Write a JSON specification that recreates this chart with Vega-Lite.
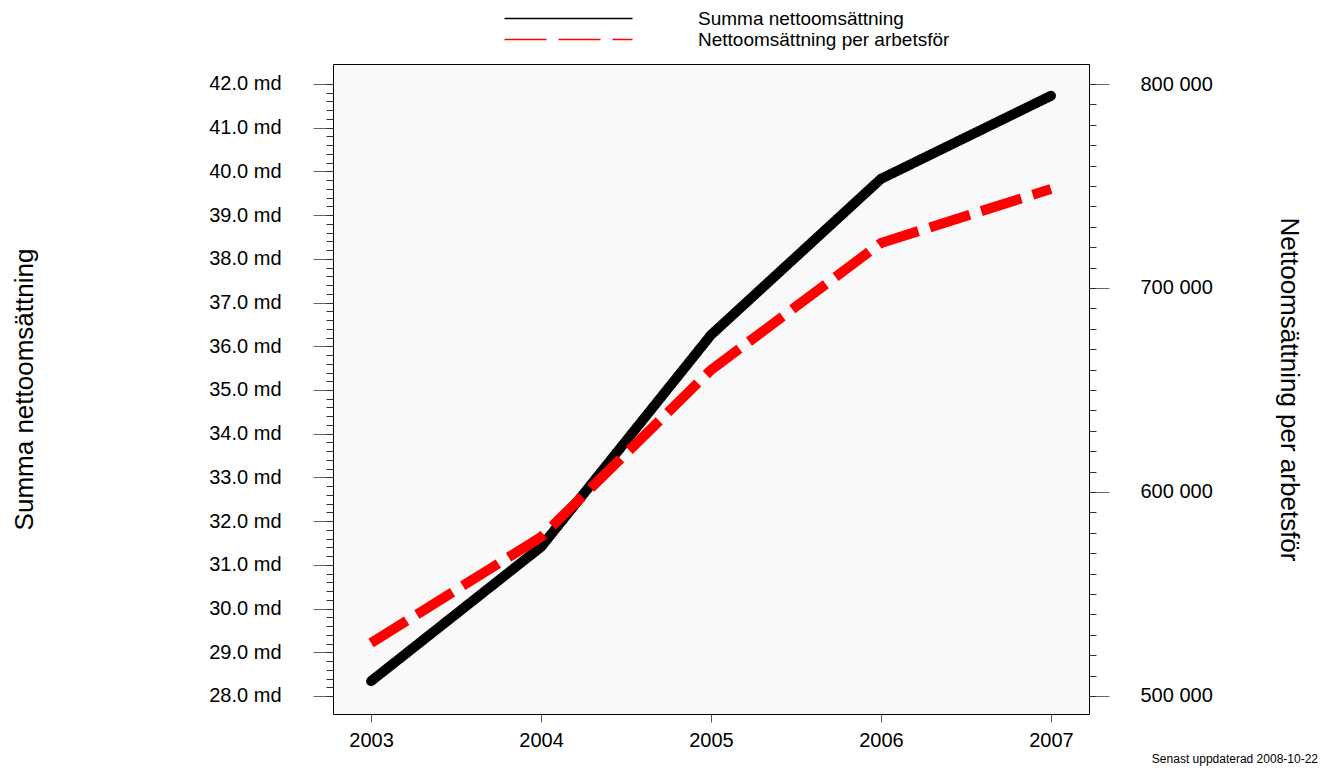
{
  "$schema": "https://vega.github.io/schema/vega-lite/v6.json",
  "width": 756,
  "height": 650,
  "autosize": {"type": "none"},
  "padding": {"left": 333, "top": 64, "right": 239, "bottom": 59},
  "background": "#ffffff",
  "title": {
    "text": "Senast uppdaterad 2008-10-22",
    "orient": "bottom",
    "anchor": "end",
    "frame": "group",
    "fontSize": 12,
    "fontWeight": "normal",
    "font": "Liberation Sans",
    "color": "#000000",
    "baseline": "top",
    "offset": 4,
    "dx": 229
  },
  "data": {
    "values": [
      {"year": 2003, "series": "Summa nettoomsättning", "value": 28.34},
      {"year": 2004, "series": "Summa nettoomsättning", "value": 31.41},
      {"year": 2005, "series": "Summa nettoomsättning", "value": 36.26},
      {"year": 2006, "series": "Summa nettoomsättning", "value": 39.83},
      {"year": 2007, "series": "Summa nettoomsättning", "value": 41.73},
      {"year": 2003, "series": "Nettoomsättning per arbetsför", "value": 525980},
      {"year": 2004, "series": "Nettoomsättning per arbetsför", "value": 577940},
      {"year": 2005, "series": "Nettoomsättning per arbetsför", "value": 659800},
      {"year": 2006, "series": "Nettoomsättning per arbetsför", "value": 722060},
      {"year": 2007, "series": "Nettoomsättning per arbetsför", "value": 748530}
    ]
  },
  "encoding": {
    "x": {
      "field": "year",
      "type": "quantitative",
      "scale": {"domain": [2002.776, 2007.224], "nice": false, "zero": false},
      "axis": {
        "values": [2003, 2004, 2005, 2006, 2007],
        "format": "d",
        "title": null,
        "tickSize": 8,
        "labelPadding": 8,
        "labelFontSize": 20,
        "tickColor": "#555555",
        "labelFlush": false
      }
    }
  },
  "layer": [
    {
      "transform": [{"filter": "datum.series === 'Summa nettoomsättning'"}],
      "mark": {"type": "line", "strokeWidth": 10, "strokeCap": "round", "strokeJoin": "round"},
      "encoding": {
        "y": {
          "field": "value",
          "type": "quantitative",
          "scale": {"domain": [27.5882, 42.4575], "nice": false, "zero": false},
          "axis": {
            "orient": "left",
            "values": [28, 29, 30, 31, 32, 33, 34, 35, 36, 37, 38, 39, 40, 41, 42],
            "labelExpr": "format(datum.value, '.1f') + ' md'",
            "tickSize": 20,
            "labelPadding": 32,
            "labelFontSize": 20,
            "tickColor": "#666666",
            "title": "Summa nettoomsättning",
            "titleFontSize": 26,
            "titleFontWeight": "normal",
            "titleAngle": -90,
            "titleX": -309,
            "titleY": 325,
            "titleAlign": "center",
            "titleBaseline": "middle"
          }
        },
        "color": {
          "field": "series",
          "type": "nominal",
          "scale": {"domain": ["Summa nettoomsättning", "Nettoomsättning per arbetsför"], "range": ["#000000", "#ff0000"]},
          "legend": {"title": null}
        },
        "strokeDash": {
          "field": "series",
          "type": "nominal",
          "scale": {"domain": ["Summa nettoomsättning", "Nettoomsättning per arbetsför"], "range": [[1, 0], [42, 12]]},
          "legend": {"title": null}
        }
      }
    },
    {
      "transform": [{"filter": "datum.series === 'Summa nettoomsättning'"}],
      "mark": {"type": "line", "strokeOpacity": 0},
      "encoding": {
        "y": {
          "field": "value",
          "type": "quantitative",
          "scale": {"domain": [27.5882, 42.4575], "nice": false, "zero": false},
          "axis": {
            "orient": "left",
            "values": [28, 28.2, 28.4, 28.6, 28.8, 29, 29.2, 29.4, 29.6, 29.8, 30, 30.2, 30.4, 30.6, 30.8, 31, 31.2, 31.4, 31.6, 31.8, 32, 32.2, 32.4, 32.6, 32.8, 33, 33.2, 33.4, 33.6, 33.8, 34, 34.2, 34.4, 34.6, 34.8, 35, 35.2, 35.4, 35.6, 35.8, 36, 36.2, 36.4, 36.6, 36.8, 37, 37.2, 37.4, 37.6, 37.8, 38, 38.2, 38.4, 38.6, 38.8, 39, 39.2, 39.4, 39.6, 39.8, 40, 40.2, 40.4, 40.6, 40.8, 41, 41.2, 41.4, 41.6, 41.8, 42],
            "labels": false,
            "tickSize": 7,
            "tickColor": "#333333",
            "title": null
          }
        }
      }
    },
    {
      "transform": [{"filter": "datum.series === 'Nettoomsättning per arbetsför'"}],
      "mark": {"type": "line", "strokeWidth": 10, "strokeCap": "butt", "strokeJoin": "miter"},
      "encoding": {
        "y": {
          "field": "value",
          "type": "quantitative",
          "scale": {"domain": [491176, 809804], "nice": false, "zero": false},
          "axis": {
            "orient": "right",
            "values": [500000, 600000, 700000, 800000],
            "labelExpr": "replace(format(datum.value, ',d'), ',', ' ')",
            "tickSize": 20,
            "labelPadding": 31,
            "labelFontSize": 20,
            "tickColor": "#666666",
            "title": "Nettoomsättning per arbetsför",
            "titleFontSize": 26,
            "titleFontWeight": "normal",
            "titleAngle": 90,
            "titleX": 199,
            "titleY": 325,
            "titleAlign": "center",
            "titleBaseline": "middle"
          }
        },
        "color": {
          "field": "series",
          "type": "nominal",
          "scale": {"domain": ["Summa nettoomsättning", "Nettoomsättning per arbetsför"], "range": ["#000000", "#ff0000"]},
          "legend": {"title": null}
        },
        "strokeDash": {
          "field": "series",
          "type": "nominal",
          "scale": {"domain": ["Summa nettoomsättning", "Nettoomsättning per arbetsför"], "range": [[1, 0], [42, 12]]},
          "legend": {"title": null}
        }
      }
    },
    {
      "transform": [{"filter": "datum.series === 'Nettoomsättning per arbetsför'"}],
      "mark": {"type": "line", "strokeOpacity": 0},
      "encoding": {
        "y": {
          "field": "value",
          "type": "quantitative",
          "scale": {"domain": [491176, 809804], "nice": false, "zero": false},
          "axis": {
            "orient": "right",
            "values": [500000, 510000, 520000, 530000, 540000, 550000, 560000, 570000, 580000, 590000, 600000, 610000, 620000, 630000, 640000, 650000, 660000, 670000, 680000, 690000, 700000, 710000, 720000, 730000, 740000, 750000, 760000, 770000, 780000, 790000, 800000],
            "labels": false,
            "tickSize": 7,
            "tickColor": "#333333",
            "title": null
          }
        }
      }
    }
  ],
  "resolve": {"scale": {"y": "independent"}, "axis": {"y": "independent"}},
  "config": {
    "font": "Liberation Sans",
    "view": {"stroke": "#000000", "strokeWidth": 1, "fill": "#f9f9f9"},
    "axis": {"grid": false, "domain": false, "labelColor": "#000000", "titleColor": "#000000", "labelFont": "Liberation Sans", "titleFont": "Liberation Sans"},
    "legend": {
      "orient": "none",
      "legendX": 226,
      "legendY": -55,
      "direction": "vertical",
      "symbolType": "M-16,0H16",
      "symbolSize": 64,
      "symbolStrokeWidth": 1.5,
      "labelFontSize": 19,
      "labelFont": "Liberation Sans",
      "labelColor": "#000000",
      "labelOffset": 120,
      "labelLimit": 500,
      "rowPadding": 1,
      "padding": 0
    }
  }
}
